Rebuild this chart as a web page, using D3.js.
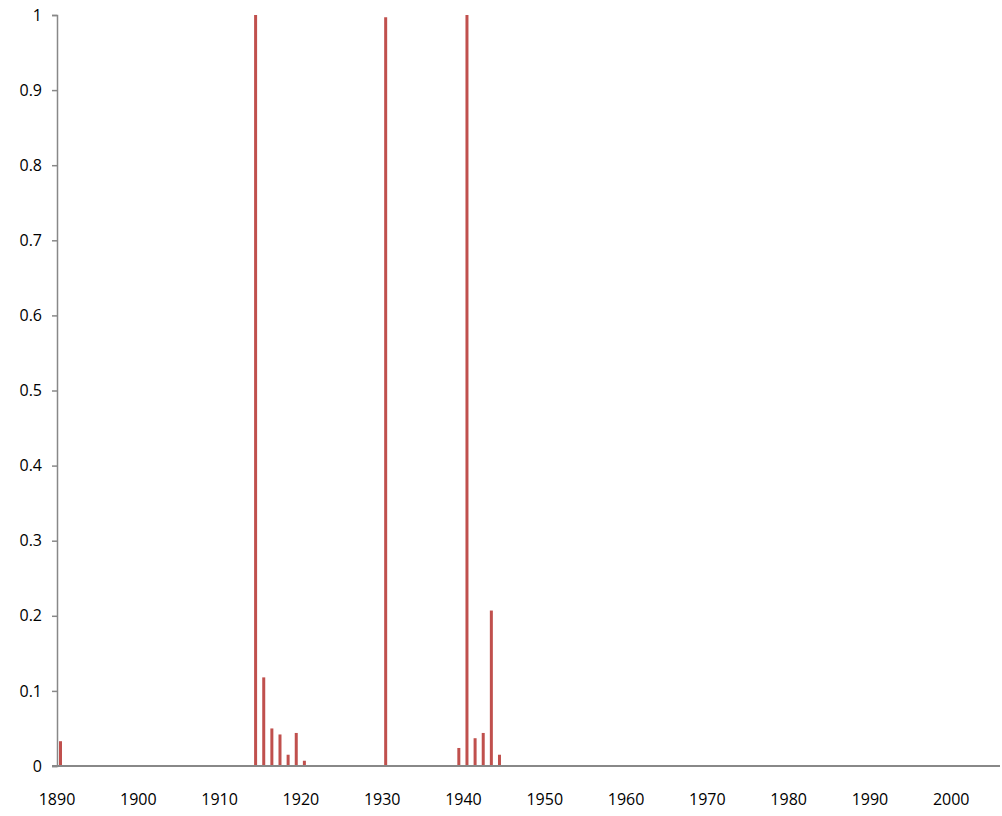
<!DOCTYPE html>
<html>
<head>
<meta charset="utf-8">
<script src="https://cdn.jsdelivr.net/npm/d3@7"></script>
<style>
body { margin: 0; background: #fff; }
text { font-family: "Open Sans", "Liberation Sans", sans-serif; font-size: 16px; fill: #000; }
</style>
</head>
<body>
<script>
// years with non-zero values, everything else is 0
var years = [1890, 1914, 1915, 1916, 1917, 1918, 1919, 1920, 1930, 1939, 1940, 1941, 1942, 1943, 1944];
var values = [0.033, 1.0, 0.118, 0.05, 0.042, 0.015, 0.044, 0.007, 0.997, 0.024, 1.0, 0.037, 0.044, 0.207, 0.015];
var yTicks = [0, 0.1, 0.2, 0.3, 0.4, 0.5, 0.6, 0.7, 0.8, 0.9, 1];
var xLabels = [1890, 1900, 1910, 1920, 1930, 1940, 1950, 1960, 1970, 1980, 1990, 2000];

var width = 1002, height = 816;
var mLeft = 57, mRight = 1000, mTop = 15, mBottom = 766;

var svg = d3.select('body').append('svg')
	.attr('width', width)
	.attr('height', height);

var allYears = d3.range(1890, 2006);
var x = d3.scaleBand().domain(allYears).range([mLeft, mRight]);
var y = d3.scaleLinear().domain([0, 1]).range([mBottom, mTop]);

// bars
svg.selectAll('rect.bar')
	.data(years.map(function(d, i) { return {year: d, v: values[i]}; }))
	.enter().append('rect')
	.attr('x', function(d) { return x(d.year) + 2; })
	.attr('y', function(d) { return y(d.v); })
	.attr('width', 3)
	.attr('height', function(d) { return mBottom - y(d.v); })
	.attr('fill', '#c0504d');

// y axis
var yAxis = svg.append('g')
	.attr('transform', 'translate(' + mLeft + ',0)')
	.call(d3.axisLeft(y).tickValues(yTicks).tickSize(5).tickPadding(10)
		.tickFormat(function(d) { return d === 0 || d === 1 ? d : d3.format('.1f')(d); }));
yAxis.select('.domain').attr('stroke', '#888').attr('stroke-width', 1.5);
yAxis.selectAll('.tick line').attr('stroke', '#888').attr('stroke-width', 1.5);
yAxis.selectAll('text').style('font-size', '16px').attr('fill', '#000');

// x axis
svg.append('line')
	.attr('x1', mLeft - 5).attr('x2', mRight)
	.attr('y1', mBottom).attr('y2', mBottom)
	.attr('stroke', '#888').attr('stroke-width', 2);

svg.selectAll('text.xl')
	.data(xLabels)
	.enter().append('text')
	.attr('class', 'xl')
	.attr('x', function(d) { return x(d); })
	.attr('y', mBottom + 39)
	.attr('text-anchor', 'middle')
	.text(function(d) { return d; });
</script>
</body>
</html>
